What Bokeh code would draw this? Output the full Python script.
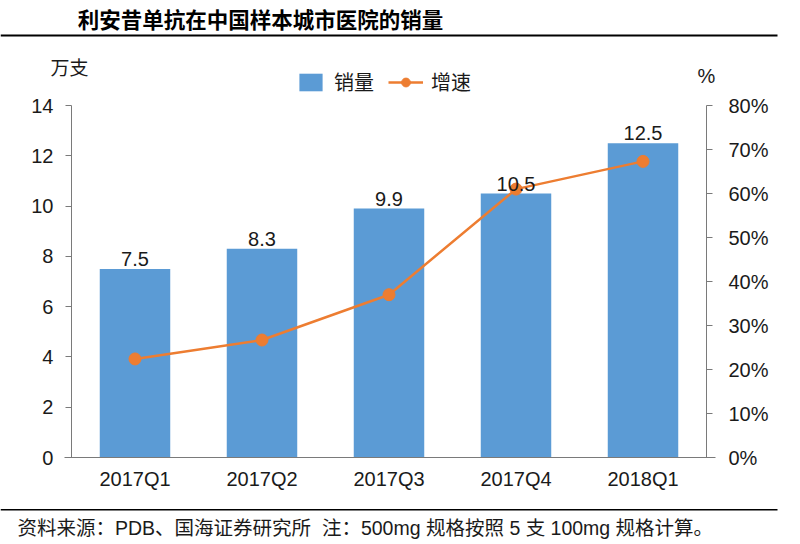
from bokeh.plotting import figure
from bokeh.models import (Range1d, LinearAxis, FactorRange, Label, Legend, LegendItem,
                          FixedTicker, NumeralTickFormatter, BoxAnnotation, ColumnDataSource)
from bokeh.core.properties import value
from bokeh.embed import file_html
from bokeh.resources import INLINE

quarters = ["2017Q1", "2017Q2", "2017Q3", "2017Q4", "2018Q1"]
sales = [7.5, 8.3, 9.9, 10.5, 12.5]
sales_labels = ["7.5", "8.3", "9.9", "10.5", "12.5"]
growth = [0.224, 0.267, 0.370, 0.610, 0.673]
left_ticks = [0, 2, 4, 6, 8, 10, 12, 14]
right_ticks = [0, 0.1, 0.2, 0.3, 0.4, 0.5, 0.6, 0.7, 0.8]

title_text = "利安昔单抗在中国样本城市医院的销量"
source_text = "资料来源：PDB、国海证券研究所\u00a0\u00a0注：500mg 规格按照 5 支 100mg 规格计算。"

BLUE = "#5B9BD5"
ORANGE = "#ED7D31"
AXIS = "#7a7a7a"
TXT = "#1a1a1a"
LATIN = "Liberation Sans"
CJK = "Noto Sans CJK SC"
MIXED = "'Liberation Sans', 'Noto Sans CJK SC', sans-serif"

# layout constants (pixels)
W, H = 784, 540
FRAME_W = 777
ZERO_Y = 457          # canvas y of value 0
TOP_Y = 105           # canvas y of axis maximum
LEFT_MAX, RIGHT_MAX = 14, 0.8
ppu_l = (ZERO_Y - TOP_Y) / LEFT_MAX
ppu_r = (ZERO_Y - TOP_Y) / RIGHT_MAX

src = ColumnDataSource(dict(q=quarters, sales=sales, labels=sales_labels, growth=growth))

p = figure(width=W, height=H,
           x_range=FactorRange(factors=quarters, range_padding=0.2236, range_padding_units="percent"),
           y_range=Range1d(-(H - ZERO_Y) / ppu_l, ZERO_Y / ppu_l),
           output_backend="svg", toolbar_location=None,
           min_border_left=0, min_border_right=W - FRAME_W, min_border_top=0, min_border_bottom=0)
p.title.visible = False
p.extra_y_ranges = {"pct": Range1d(-(H - ZERO_Y) / ppu_r, ZERO_Y / ppu_r)}
p.outline_line_color = None
p.xgrid.visible = False
p.ygrid.visible = False
p.background_fill_color = "white"
p.border_fill_color = "white"

# left axis
ya = p.yaxis[0]
ya.fixed_location = 0
ya.bounds = (0, LEFT_MAX)
ya.ticker = FixedTicker(ticks=left_ticks)
ya.major_tick_out = 6
ya.major_tick_in = 0
ya.minor_tick_out = 0
ya.minor_tick_in = 0
ya.major_label_standoff = 12
ya.axis_line_color = AXIS
ya.major_tick_line_color = AXIS
ya.major_label_text_font = LATIN
ya.major_label_text_font_size = "20px"
ya.major_label_text_color = TXT

# right axis
ra = LinearAxis(y_range_name="pct", ticker=FixedTicker(ticks=right_ticks),
                formatter=NumeralTickFormatter(format="0%"))
ra.fixed_location = 5
ra.bounds = (0, RIGHT_MAX)
ra.major_tick_out = 6
ra.major_tick_in = 0
ra.minor_tick_out = 0
ra.minor_tick_in = 0
ra.major_label_standoff = 16
ra.axis_line_color = AXIS
ra.major_tick_line_color = AXIS
ra.major_label_text_font = LATIN
ra.major_label_text_font_size = "20px"
ra.major_label_text_color = TXT
p.add_layout(ra, "right")

# bottom axis
xa = p.xaxis[0]
xa.fixed_location = 0
xa.bounds = (-0.055, 5.07)
xa.major_tick_out = 0
xa.major_tick_in = 0
xa.minor_tick_out = 0
xa.major_label_standoff = 10
xa.axis_line_color = AXIS
xa.major_label_text_font = LATIN
xa.major_label_text_font_size = "20px"
xa.major_label_text_color = TXT

bars = p.vbar(x="q", top="sales", width=0.555, source=src, fill_color=BLUE, line_color=None)
ln = p.line(x="q", y="growth", source=src, y_range_name="pct", line_color=ORANGE, line_width=2.5)
sc = p.scatter(x="q", y="growth", source=src, y_range_name="pct", size=12,
               fill_color=ORANGE, line_color=ORANGE)
p.text(x="q", y="sales", text="labels", source=src, y_offset=-10, text_align="center",
       text_baseline="alphabetic", text_font=value(LATIN), text_font_size="20px", text_color=TXT)


def mk_legend(item, loc, gw, standoff):
    return Legend(items=[item], location=loc, orientation="horizontal", padding=0, margin=0,
                  spacing=0, glyph_width=gw, glyph_height=22, label_height=22,
                  label_standoff=standoff, label_text_font=CJK, label_text_font_size="20px",
                  label_text_color=TXT, border_line_color=None, background_fill_alpha=0)


p.add_layout(mk_legend(LegendItem(label="销量", renderers=[bars]), (296, H - 96), 29, 9))
p.add_layout(mk_legend(LegendItem(label="增速", renderers=[ln, sc]), (388, H - 96), 35, 8))

p.add_layout(Label(x=260, y=18, x_units="canvas", y_units="canvas", text=title_text,
                   text_align="center", text_baseline="middle", text_font=CJK,
                   text_font_style="bold", text_font_size="21.5px", text_color="#000000"))
p.add_layout(Label(x=50, y=66, x_units="canvas", y_units="canvas", text="万支",
                   text_align="left", text_baseline="middle", text_font=CJK,
                   text_font_size="19px", text_color=TXT))
p.add_layout(Label(x=697, y=75, x_units="canvas", y_units="canvas", text="%",
                   text_align="left", text_baseline="middle", text_font=LATIN,
                   text_font_size="20px", text_color=TXT))
p.add_layout(Label(x=17, y=527, x_units="canvas", y_units="canvas", text=source_text,
                   text_align="left", text_baseline="middle", text_font=MIXED,
                   text_font_size="19.5px", text_color=TXT))

p.add_layout(BoxAnnotation(left=0, right=W, top=34, bottom=36, left_units="canvas",
                           right_units="canvas", top_units="canvas", bottom_units="canvas",
                           fill_color="#000000", fill_alpha=1, line_color=None))
p.add_layout(BoxAnnotation(left=0, right=W, top=508.5, bottom=510, left_units="canvas",
                           right_units="canvas", top_units="canvas", bottom_units="canvas",
                           fill_color="#000000", fill_alpha=1, line_color=None))

open("out.html", "w").write(file_html(p, INLINE))
